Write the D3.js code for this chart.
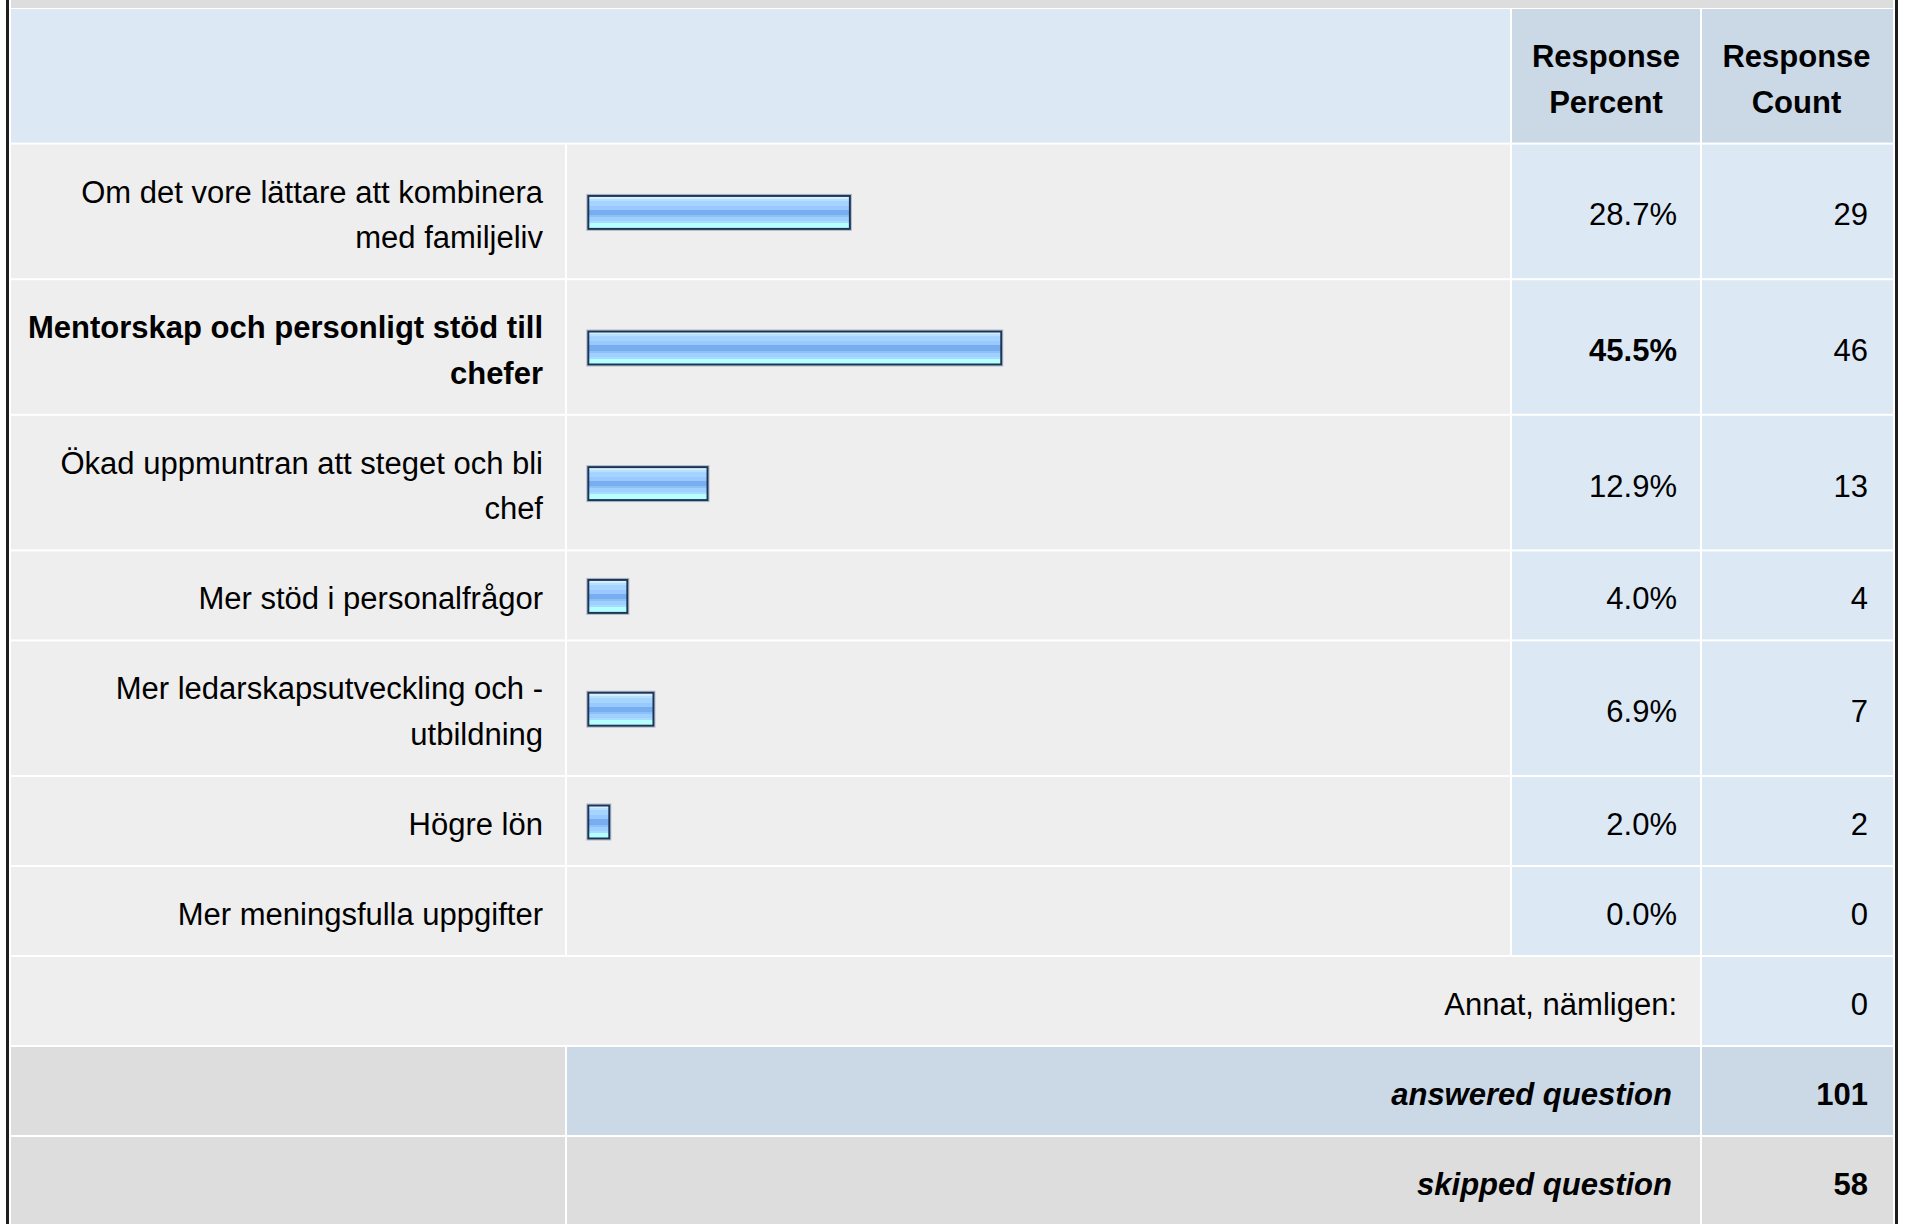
<!DOCTYPE html>
<html>
<head>
<meta charset="utf-8">
<script src="https://cdn.jsdelivr.net/npm/d3@7"></script>
<style>
body { margin: 0; background: #fff; }
text { font-family: "Liberation Sans", Arial, sans-serif; fill: #000; }
</style>
</head>
<body>
<svg width="1905" height="1224"></svg>
<script>
const categories = [
  "Om det vore lättare att kombinera med familjeliv",
  "Mentorskap och personligt stöd till chefer",
  "Ökad uppmuntran att steget och bli chef",
  "Mer stöd i personalfrågor",
  "Mer ledarskapsutveckling och -utbildning",
  "Högre lön",
  "Mer meningsfulla uppgifter"
];
const percents = [28.7, 45.5, 12.9, 4.0, 6.9, 2.0, 0.0];
const counts = [29, 46, 13, 4, 7, 2, 0];
const headerLabels = [["Response", "Percent"], ["Response", "Count"]];
const otherLabel = "Annat, nämligen:";
const otherCount = 0;
const summaryLabels = ["answered question", "skipped question"];
const summaryCounts = [101, 58];

var svg = d3.select("svg"),
  fontSize = 31,
  lineH = 45.6,
  pad = 42.4,
  gap = 2;

// column edges: label | bar | percent | count
var cols = [11, 567, 1512, 1702, 1893];

var light = "#eeeeee", blue = "#dde8f5", blueDark = "#cbd8e6", gray = "#dddddd";

// bar gradient
var grad = svg.append("defs").append("linearGradient")
  .attr("id", "barGrad").attr("x1", 0).attr("y1", 0).attr("x2", 0).attr("y2", 1);
[[0, "#d3eeff"], [0.09, "#d3eeff"], [0.09, "#b9dfff"], [0.15, "#b9dfff"], [0.15, "#a5d4ff"],
 [0.30, "#a5d4ff"], [0.30, "#99c9ff"], [0.42, "#99c9ff"], [0.42, "#78aef0"], [0.58, "#78aef0"],
 [0.58, "#8cc0f8"], [0.64, "#8cc0f8"], [0.64, "#a0d0ff"], [0.76, "#a0d0ff"], [0.76, "#a8dcff"],
 [0.83, "#a8dcff"], [0.83, "#b5ffff"], [1, "#b5ffff"]].forEach(function(s) {
  grad.append("stop").attr("offset", s[0]).attr("stop-color", s[1]);
});

// wrap text to a max width (breaks after spaces and hyphens)
var measure = svg.append("text").attr("font-size", fontSize + "px").attr("visibility", "hidden");
function wrap(str, maxW, bold) {
  measure.attr("font-weight", bold ? "bold" : "normal");
  var tokens = str.match(/[^\s-]*-|[^\s-]+\s*/g), lines = [], cur = "";
  tokens.forEach(function(t) {
    var test = (cur + t).trim();
    measure.text(test);
    if (cur && measure.node().getComputedTextLength() > maxW) {
      lines.push(cur.trim());
      cur = t;
    } else {
      cur += t;
    }
  });
  lines.push(cur.trim());
  return lines;
}

function cell(x0, x1, y, h, fill) {
  svg.append("rect").attr("x", x0).attr("y", y).attr("width", x1 - x0).attr("height", h).attr("fill", fill);
}

function label(x, cy, lines, anchor, opts) {
  opts = opts || {};
  var t = svg.append("text")
    .attr("font-size", fontSize + "px")
    .attr("text-anchor", anchor)
    .attr("font-weight", opts.bold ? "bold" : "normal")
    .attr("font-style", opts.italic ? "italic" : "normal");
  lines.forEach(function(l, i) {
    t.append("tspan").attr("x", x)
      .attr("y", cy + (i - (lines.length - 1) / 2) * lineH)
      .attr("dy", "0.45em").text(l);
  });
}

var maxPct = d3.max(percents);
var xScale = d3.scaleLinear().domain([0, 100]).range([0, 901]);

// top strip (end of previous block)
cell(cols[0], cols[4], -20, 28, gray);

// header row
var y = 9, hh = 2 * lineH + pad;
cell(cols[0], cols[2] - gap, y, hh, blue);
cell(cols[2], cols[3] - gap, y, hh, blueDark);
cell(cols[3], cols[4], y, hh, blueDark);
headerLabels.forEach(function(h, i) {
  label((cols[2 + i] + cols[3 + i] - gap) / 2, y + hh / 2, h, "middle", { bold: true });
});
y += hh + gap;

// data rows
categories.forEach(function(c, i) {
  var bold = percents[i] === maxPct;
  var lines = wrap(c, 528, bold);
  var h = lines.length * lineH + pad, cy = y + h / 2;
  cell(cols[0], cols[1] - gap, y, h, light);
  cell(cols[1], cols[2] - gap, y, h, light);
  cell(cols[2], cols[3] - gap, y, h, blue);
  cell(cols[3], cols[4], y, h, blue);
  label(cols[1] - gap - 22, cy, lines, "end", { bold: bold });
  label(cols[3] - gap - 23, cy, [percents[i].toFixed(1) + "%"], "end", { bold: bold });
  label(cols[4] - 25, cy, [String(counts[i])], "end");
  if (percents[i] > 0) {
    var bx = cols[1] + 21.3, bw = xScale(percents[i]) + 3, by = cy - 15.5;
    svg.append("rect").attr("x", bx - 1.5).attr("y", by - 1.5).attr("width", bw + 3).attr("height", 36)
      .attr("fill", "none").attr("stroke", "#8a9ab4").attr("stroke-opacity", 0.6).attr("stroke-width", 1);
    svg.append("rect").attr("x", bx).attr("y", by).attr("width", bw).attr("height", 33)
      .attr("fill", "url(#barGrad)").attr("stroke", "#1c3557").attr("stroke-width", 2);
  }
  y += h + gap;
});

// "other" row
var rh = lineH + pad;
cell(cols[0], cols[3] - gap, y, rh, light);
cell(cols[3], cols[4], y, rh, blue);
label(cols[3] - gap - 23, y + rh / 2, [otherLabel], "end");
label(cols[4] - 25, y + rh / 2, [String(otherCount)], "end");
y += rh + gap;

// summary rows
summaryLabels.forEach(function(s, i) {
  var fill = i === 0 ? blueDark : gray;
  cell(cols[0], cols[1] - gap, y, rh, gray);
  cell(cols[1], cols[3] - gap, y, rh, fill);
  cell(cols[3], cols[4], y, rh, fill);
  label(cols[3] - gap - 28, y + rh / 2, [s], "end", { bold: true, italic: true });
  label(cols[4] - 25, y + rh / 2, [String(summaryCounts[i])], "end", { bold: true });
  y += rh + gap;
});

// outer dark frame lines
svg.append("rect").attr("x", 6).attr("y", 0).attr("width", 3).attr("height", 1224).attr("fill", "#1e1e1e");
svg.append("rect").attr("x", 1895).attr("y", 0).attr("width", 3).attr("height", 1224).attr("fill", "#1e1e1e");
</script>
</body>
</html>
